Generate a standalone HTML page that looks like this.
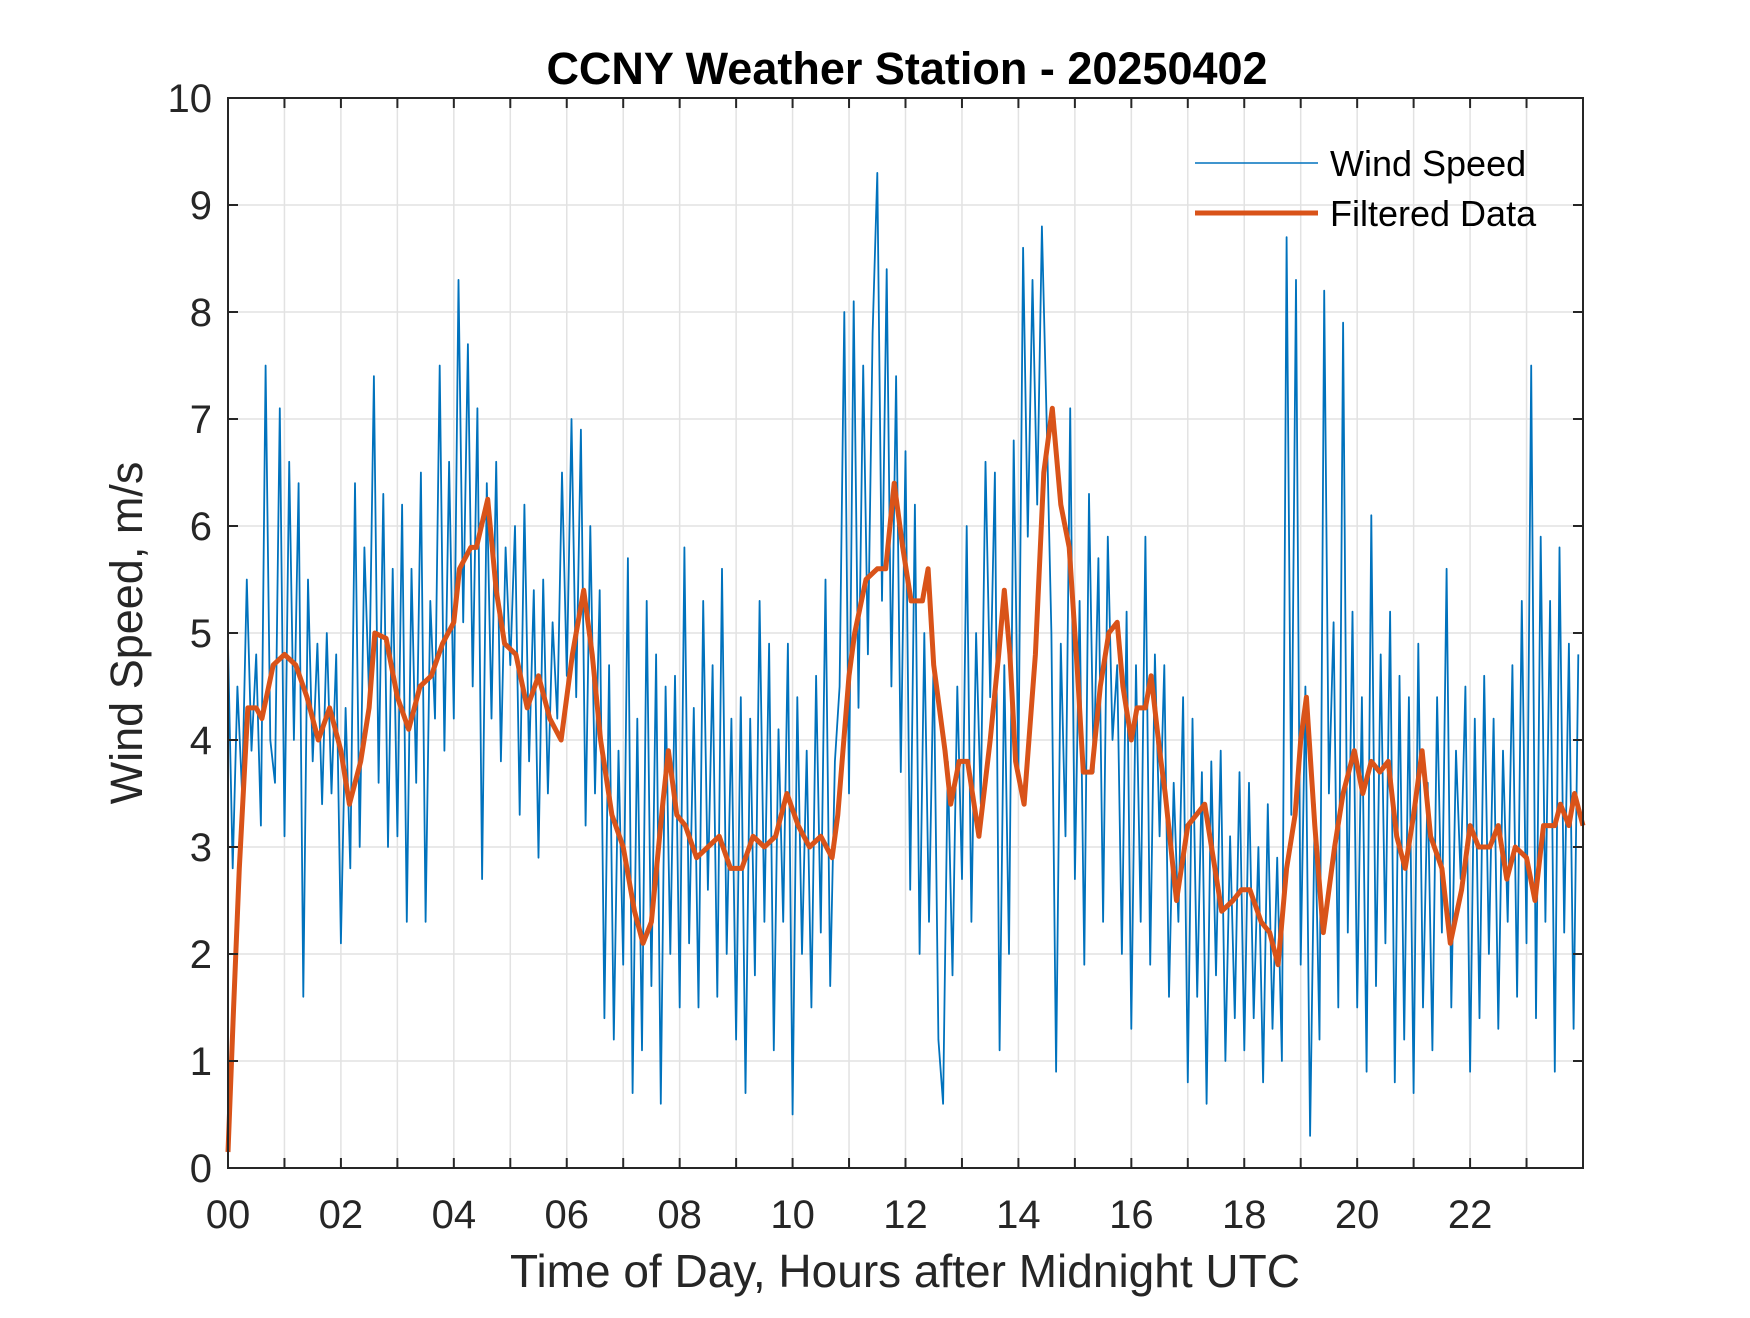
<!DOCTYPE html>
<html><head><meta charset="utf-8"><style>
html,body{margin:0;padding:0;background:#fff;}
svg text{font-family:"Liberation Sans",Arial,sans-serif;}
</style></head><body>
<svg id="chart" width="1750" height="1313" viewBox="0 0 1750 1313" xmlns="http://www.w3.org/2000/svg">
<rect width="1750" height="1313" fill="#fff"/>
<g id="grid"></g>
<g id="series"></g>
<g id="axes"></g>
<text x="907" y="84" text-anchor="middle" font-size="45" font-weight="bold" fill="#000">CCNY Weather Station - 20250402</text>
<text x="905" y="1287" text-anchor="middle" font-size="46" fill="#262626">Time of Day, Hours after Midnight UTC</text>
<text transform="translate(142,633) rotate(-90)" text-anchor="middle" font-size="45" fill="#262626">Wind Speed, m/s</text>
<g>
<line x1="1195" y1="163" x2="1318" y2="163" stroke="#0072BD" stroke-width="1.5"/>
<text x="1330" y="176" font-size="36" fill="#000">Wind Speed</text>
<line x1="1195" y1="213" x2="1318" y2="213" stroke="#D95319" stroke-width="5"/>
<text x="1330" y="226" font-size="36" fill="#000">Filtered Data</text>
</g>
</svg>
<script>
const xTickLabels = ["00","02","04","06","08","10","12","14","16","18","20","22"];
const yTickLabels = [0,1,2,3,4,5,6,7,8,9,10];
const windSpeed = [
4.9,2.8,4.5,3.5,5.5,3.9,4.8,3.2,7.5,4.0,3.6,7.1,
3.1,6.6,4.0,6.4,1.6,5.5,3.8,4.9,3.4,5.0,3.5,4.8,
2.1,4.3,2.8,6.4,3.0,5.8,4.4,7.4,3.6,6.3,3.0,5.6,
3.1,6.2,2.3,5.6,3.6,6.5,2.3,5.3,4.2,7.5,3.9,6.6,
4.2,8.3,5.1,7.7,4.5,7.1,2.7,6.4,4.2,6.6,3.8,5.8,
4.7,6.0,3.3,6.2,3.8,5.4,2.9,5.5,3.5,5.1,4.2,6.5,
4.6,7.0,4.4,6.9,3.2,6.0,3.5,5.4,1.4,4.7,1.2,3.9,
1.9,5.7,0.7,4.2,1.1,5.3,1.7,4.8,0.6,4.5,2.0,4.6,
1.5,5.8,2.1,4.3,1.5,5.3,2.6,4.7,1.6,5.6,2.0,4.2,
1.2,4.4,0.7,4.2,1.8,5.3,2.3,4.9,1.1,4.1,2.3,4.9,
0.5,4.4,2.0,3.9,1.5,4.6,2.2,5.5,1.7,3.8,4.5,8.0,
3.5,8.1,4.3,7.5,4.8,7.8,9.3,5.3,8.4,4.5,7.4,3.7,
6.7,2.6,6.2,2.0,5.0,2.3,4.8,1.2,0.6,3.8,1.8,4.5,
2.7,6.0,2.3,5.0,3.4,6.6,4.4,6.5,1.1,4.7,2.0,6.8,
3.7,8.6,5.9,8.3,6.2,8.8,7.0,5.0,0.9,4.9,3.1,7.1,
2.7,5.3,1.9,6.3,3.7,5.7,2.3,5.9,4.0,4.7,2.0,5.2,
1.3,4.7,2.3,5.9,1.9,4.8,3.1,4.7,1.6,3.6,2.3,4.4,
0.8,4.2,1.6,3.7,0.6,3.8,1.8,3.9,1.0,3.1,1.4,3.7,
1.1,3.6,1.4,3.0,0.8,3.4,1.3,2.9,1.0,8.7,3.3,8.3,
1.9,4.5,0.3,3.4,1.2,8.2,3.5,5.1,1.5,7.9,2.2,5.2,
1.5,4.4,0.9,6.1,1.7,4.8,2.1,5.2,0.8,4.6,1.2,4.4,
0.7,4.9,1.5,3.6,1.1,4.4,2.2,5.6,1.5,3.9,2.7,4.5,
0.9,4.2,1.4,4.6,2.0,4.2,1.3,3.9,2.3,4.7,1.6,5.3,
2.1,7.5,1.4,5.9,2.3,5.3,0.9,5.8,2.2,4.9,1.3,4.8
];
const filteredHours = [0,0.1,0.2,0.35,0.5,0.6,0.8,1.0,1.2,1.4,1.6,1.8,2.0,2.15,2.35,2.5,2.6,2.8,3.0,3.2,3.4,3.6,3.8,4.0,4.1,4.3,4.4,4.6,4.75,4.9,5.1,5.3,5.5,5.7,5.9,6.1,6.3,6.45,6.6,6.8,7.0,7.2,7.35,7.5,7.7,7.8,7.95,8.1,8.3,8.5,8.7,8.9,9.1,9.3,9.5,9.7,9.9,10.1,10.3,10.5,10.7,10.8,11.0,11.1,11.3,11.5,11.65,11.8,11.95,12.1,12.3,12.4,12.5,12.7,12.8,12.95,13.1,13.3,13.5,13.65,13.75,13.85,13.95,14.1,14.3,14.45,14.6,14.75,14.9,15.05,15.15,15.3,15.45,15.6,15.75,15.85,16.0,16.1,16.25,16.35,16.5,16.6,16.8,17.0,17.15,17.3,17.45,17.6,17.8,17.95,18.1,18.3,18.45,18.6,18.75,18.9,19.0,19.1,19.25,19.4,19.6,19.75,19.95,20.1,20.25,20.4,20.55,20.7,20.85,21.0,21.15,21.3,21.5,21.65,21.85,22.0,22.15,22.35,22.5,22.65,22.8,23.0,23.15,23.3,23.5,23.6,23.75,23.85,24.0];
const filteredValues = [0.15,1.5,2.8,4.3,4.3,4.2,4.7,4.8,4.7,4.4,4.0,4.3,3.9,3.4,3.8,4.3,5.0,4.95,4.4,4.1,4.5,4.6,4.9,5.1,5.6,5.8,5.8,6.25,5.4,4.9,4.8,4.3,4.6,4.2,4.0,4.8,5.4,4.8,4.0,3.3,3.0,2.4,2.1,2.3,3.4,3.9,3.3,3.2,2.9,3.0,3.1,2.8,2.8,3.1,3.0,3.1,3.5,3.2,3.0,3.1,2.9,3.3,4.6,5.0,5.5,5.6,5.6,6.4,5.8,5.3,5.3,5.6,4.7,3.9,3.4,3.8,3.8,3.1,4.0,4.8,5.4,4.8,3.8,3.4,4.8,6.5,7.1,6.2,5.8,4.6,3.7,3.7,4.5,5.0,5.1,4.5,4.0,4.3,4.3,4.6,3.9,3.5,2.5,3.2,3.3,3.4,2.9,2.4,2.5,2.6,2.6,2.3,2.2,1.9,2.8,3.3,4.0,4.4,3.2,2.2,3.0,3.5,3.9,3.5,3.8,3.7,3.8,3.1,2.8,3.3,3.9,3.1,2.8,2.1,2.6,3.2,3.0,3.0,3.2,2.7,3.0,2.9,2.5,3.2,3.2,3.4,3.2,3.5,3.2];

const L=228,R=1583,T=98,B=1168;
const xS=h=>L+(h/24)*(R-L);
const yS=v=>B-(v/10)*(B-T);
const NS="http://www.w3.org/2000/svg";
function mk(tag,attrs,parent){const e=document.createElementNS(NS,tag);for(const k in attrs)e.setAttribute(k,attrs[k]);parent.appendChild(e);return e;}
const grid=document.getElementById('grid'),axes=document.getElementById('axes'),series=document.getElementById('series');
for(let h=1;h<24;h++){
  const g=mk('line',{x1:xS(h),x2:xS(h),y1:T,y2:B,stroke:'#e2e2e2','stroke-width':1.5},grid);
  
  
  for(const [a,b] of [[B,B-10],[T,T+10]]){
    const t=mk('line',{x1:xS(h),x2:xS(h),y1:a,y2:b,stroke:'#262626','stroke-width':2},axes);
    
    
  }
}
yTickLabels.forEach(v=>{
  if(v>0&&v<10){
    const g=mk('line',{x1:L,x2:R,y1:yS(v),y2:yS(v),stroke:'#e2e2e2','stroke-width':1.5},grid);
    
    
    for(const [a,b] of [[L,L+10],[R,R-10]]){
      const t=mk('line',{x1:a,x2:b,y1:yS(v),y2:yS(v),stroke:'#262626','stroke-width':2},axes);
      
      
    }
  }
  const tx=mk('text',{x:212,y:yS(v)+14,'text-anchor':'end','font-size':40,fill:'#262626'},axes);
  tx.textContent=v;
  
  
});
xTickLabels.forEach((s,i)=>{
  const tx=mk('text',{x:xS(i*2),y:1228,'text-anchor':'middle','font-size':40,fill:'#262626'},axes);
  tx.textContent=s;
  
  
});
const box=mk('rect',{x:L,y:T,width:R-L,height:B-T,fill:'none',stroke:'#262626','stroke-width':2},axes);


const rawPts=windSpeed.map((v,i)=>xS(i/12).toFixed(1)+','+yS(v).toFixed(1)).join(' ');
const raw=mk('polyline',{points:rawPts,fill:'none',stroke:'#0072BD','stroke-width':1.8,'stroke-linejoin':'round'},series);


const fPts=filteredHours.map((h,i)=>xS(h).toFixed(1)+','+yS(filteredValues[i]).toFixed(1)).join(' ');
const filt=mk('polyline',{points:fPts,fill:'none',stroke:'#D95319','stroke-width':5,'stroke-linejoin':'round'},series);


</script>
</body></html>
